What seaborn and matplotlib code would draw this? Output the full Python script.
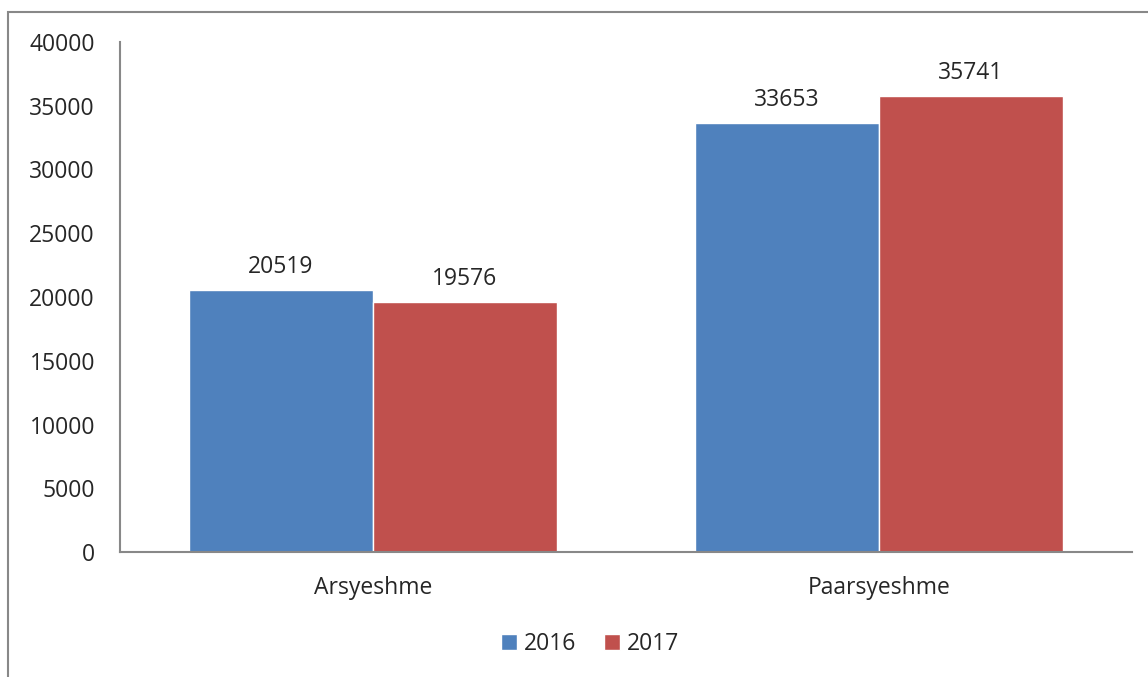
import pandas as pd
import matplotlib
matplotlib.use('Agg')
import matplotlib.pyplot as plt
import seaborn as sns
from matplotlib.patches import Rectangle

categories = ['Arsyeshme', 'Paarsyeshme']
years = ['2016', '2017']
values_2016 = [20519, 33653]
values_2017 = [19576, 35741]

df = pd.DataFrame({
    'category': categories * 2,
    'year': [years[0]] * 2 + [years[1]] * 2,
    'value': values_2016 + values_2017,
})

sns.set_style('white')
plt.rcParams['font.family'] = ['Open Sans', 'DejaVu Sans']

fig = plt.figure(figsize=(11.48, 6.77), dpi=100)
ax = fig.add_axes([0.1045, 0.1846, 0.8815, 0.7534])

palette = {'2016': '#4F81BD', '2017': '#C0504D'}
sns.barplot(data=df, x='category', y='value', hue='year', palette=palette,
            width=0.727, saturation=1, ax=ax, legend=True)

for container in ax.containers:
    ax.bar_label(container, fmt='%d', padding=8, fontsize=16.5)

ax.set_ylim(0, 40000)
ax.set_yticks(range(0, 40001, 5000))
ax.set_xlabel('')
ax.set_ylabel('')
ax.tick_params(axis='both', labelsize=16.5, length=0)
ax.tick_params(axis='x', pad=17)
ax.tick_params(axis='y', pad=18)
for s in ['top', 'right']:
    ax.spines[s].set_visible(False)
for s in ['left', 'bottom']:
    ax.spines[s].set_color('#888888')
    ax.spines[s].set_linewidth(1.5)

ax.legend(loc='center', bbox_to_anchor=(470 / 1012, -0.18), ncol=2, frameon=False,
          fontsize=16.5, handlelength=0.7, handleheight=0.7, handletextpad=0.3,
          columnspacing=1.2)

# outer chart border
fig.patches.append(Rectangle((8 / 1148, -0.1), 1.2, 1 - 12 / 677 + 0.1,
                             transform=fig.transFigure, fill=False,
                             edgecolor='#888888', linewidth=1.5))

fig.savefig('out.png', dpi=100)
